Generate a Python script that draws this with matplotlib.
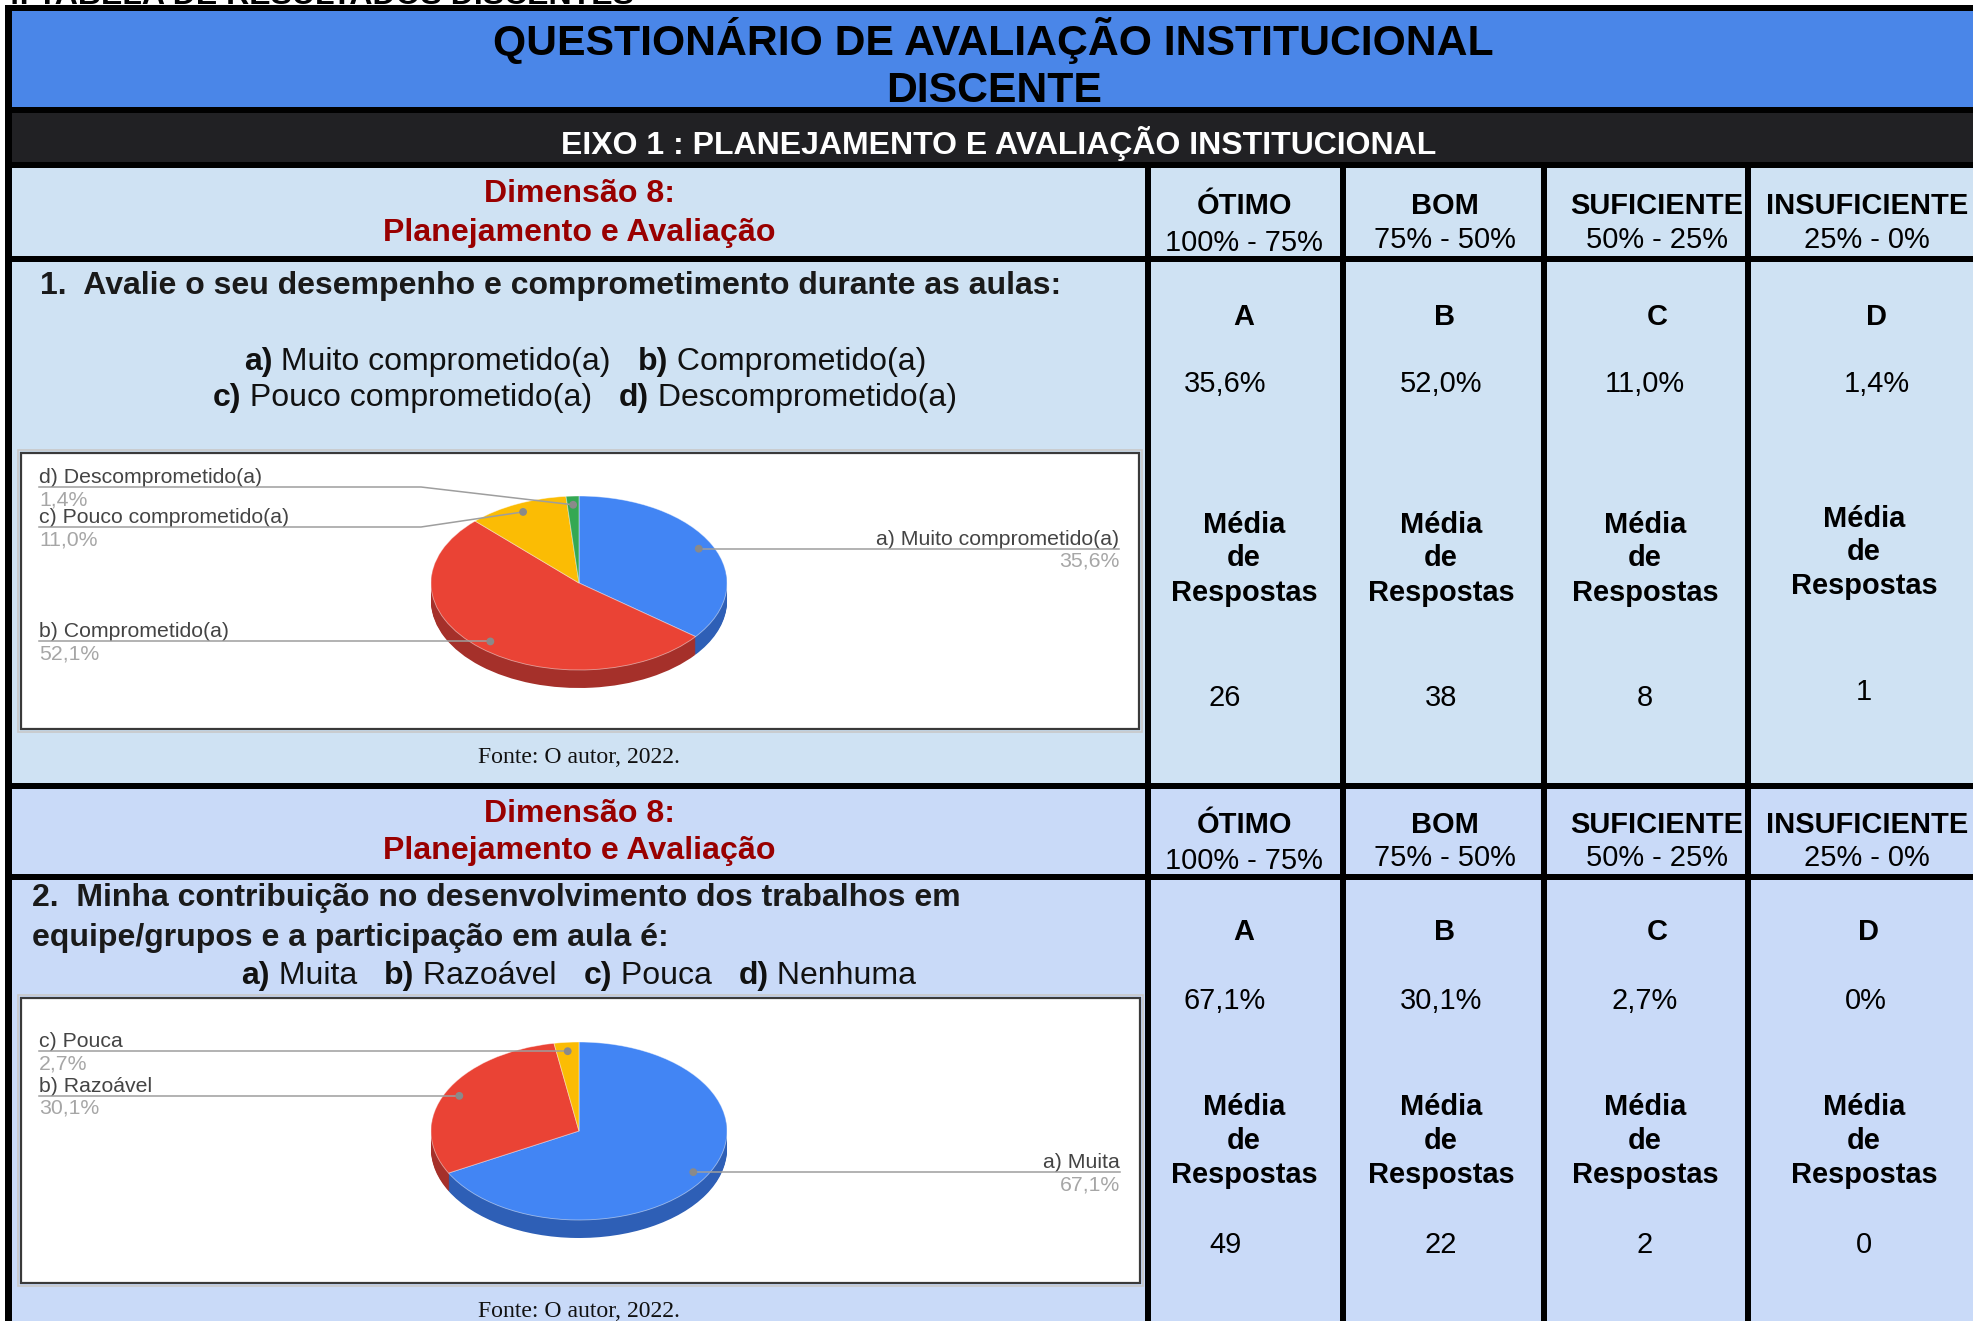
import numpy as np
import matplotlib
matplotlib.use("Agg")
import matplotlib.pyplot as plt
from matplotlib import font_manager as fm
from matplotlib.patches import Rectangle, Circle

# ---------------- data ----------------
top_caption = "4. TABELA DE RESULTADOS DISCENTES"
title_lines = ["QUESTIONÁRIO DE AVALIAÇÃO INSTITUCIONAL", "DISCENTE"]
eixo_title = "EIXO 1 : PLANEJAMENTO E AVALIAÇÃO INSTITUCIONAL"
dim_lines = ["Dimensão 8:", "Planejamento e Avaliação"]
rating_names = ["ÓTIMO", "BOM", "SUFICIENTE", "INSUFICIENTE"]
rating_ranges = ["100% - 75%", "75% - 50%", "50% - 25%", "25% - 0%"]
option_letters = ["A", "B", "C", "D"]
slice_letters = ["a", "b", "c", "d"]
media_lines = ["Média", "de", "Respostas"]

q1_title = "1.  Avalie o seu desempenho e comprometimento durante as aulas:"
q1_options = ["Muito comprometido(a)", "Comprometido(a)",
              "Pouco comprometido(a)", "Descomprometido(a)"]
q1_chart_pct = [35.6, 52.1, 11.0, 1.4]
q1_table_pct = ["35,6%", "52,0%", "11,0%", "1,4%"]
q1_counts = [26, 38, 8, 1]

q2_title = ["2.  Minha contribuição no desenvolvimento dos trabalhos em",
            "equipe/grupos e a participação em aula é:"]
q2_options = ["Muita", "Razoável", "Pouca", "Nenhuma"]
q2_chart_pct = [67.1, 30.1, 2.7, 0.0]
q2_table_pct = ["67,1%", "30,1%", "2,7%", "0%"]
q2_counts = [49, 22, 2, 0]

source_note = "Fonte: O autor, 2022."

# ---------------- style ----------------
FW, FH = 1973, 1321
_names = {f.name for f in fm.fontManager.ttflist}
if "Liberation Sans Narrow" in _names:
    SANS = ["Liberation Sans Narrow", "DejaVu Sans"]
    K = 1 / 0.85
else:
    SANS = ["Liberation Sans", "DejaVu Sans"]
    K = 1.0
SERIF = ["Liberation Serif", "DejaVu Serif"]

C_TITLE = "#4a86e8"
C_EIXO = "#212124"
C_ROW1 = "#cfe2f3"
C_ROW2 = "#c9daf8"
C_DIM = "#990000"
SLICE_TOP = ["#4285f4", "#ea4335", "#fbbc04", "#34a853"]
SLICE_SIDE = ["#2e5fb6", "#a5302a", "#b58704", "#24773b"]


def pt(w, k=None):
    return w * (K if k is None else k) * 0.72


fig = plt.figure(figsize=(FW / 100, FH / 100), dpi=100)
fig.patch.set_facecolor("white")
bg = fig.add_axes([0, 0, 1, 1], zorder=0)
bg.set_xlim(0, FW); bg.set_ylim(FH, 0); bg.axis("off")
ov = fig.add_axes([0, 0, 1, 1], zorder=5)
ov.set_xlim(0, FW); ov.set_ylim(FH, 0); ov.axis("off")
R = fig.canvas.get_renderer()


def box(x0, y0, x1, y1, c, z=1):
    bg.add_patch(Rectangle((x0, y0), x1 - x0, y1 - y0, facecolor=c,
                           edgecolor="none", lw=0, zorder=z))


def txt(x, y, s, w, bold=False, ha="center", color="#000000", family=None, k=None):
    ov.text(x, y, s, fontsize=pt(w, k), fontweight="bold" if bold else "normal",
            family=family or SANS, ha=ha, va="baseline", color=color)


def tw(s, **kw):
    a = ov.text(0, 0, "|" + s + "|", **kw)
    w1 = a.get_window_extent(R).width
    a.remove()
    b = ov.text(0, 0, "||", **kw)
    w2 = b.get_window_extent(R).width
    b.remove()
    return w1 - w2


def rich(x, y, pieces, w, ha="center", color="#111111"):
    size = pt(w)
    widths = [tw(s, fontsize=size, fontweight="bold" if b else "normal", family=SANS)
              for s, b in pieces]
    x0 = x - sum(widths) / 2 if ha == "center" else x
    for (s, b), wd in zip(pieces, widths):
        ov.text(x0, y, s, fontsize=size, fontweight="bold" if b else "normal",
                family=SANS, ha="left", va="baseline", color=color)
        x0 += wd


# ---------------- backgrounds & grid ----------------
box(6, 6, FW, 113, C_TITLE)
box(6, 113, FW, 168, C_EIXO)
box(6, 168, FW, 783, C_ROW1)
box(6, 783, FW, FH, C_ROW2)
for y0, y1 in [(5, 11), (107, 113), (162, 168), (256, 262), (783, 789), (874, 880)]:
    box(5, y0, FW, y1, "#000000", z=3)
box(5, 5, 12, FH, "#000000", z=3)
COL_LINES = [1148, 1343, 1544, 1748]
for cx in COL_LINES:
    box(cx - 3, 165, cx + 3, FH, "#000000", z=3)

# top caption (cut by the image edge, as in the source)
txt(2, 4, top_caption, 32, bold=True, ha="left")

# title & eixo
txt(993, 55, title_lines[0], 42.7, bold=True)
txt(994, 102, title_lines[1], 42.7, bold=True)
txt(999, 154, eixo_title, 32.0, bold=True, color="white")

HDR_X = [1244, 1445, 1657, 1867]


def header_row(y_dim, y_name, y_range):
    txt(579, y_dim[0], dim_lines[0], 32.2, bold=True, color=C_DIM)
    txt(579, y_dim[1], dim_lines[1], 32.2, bold=True, color=C_DIM)
    for i, x in enumerate(HDR_X):
        txt(x, y_name, rating_names[i], 29, bold=True)
        txt(x, y_range + (3 if i == 0 else 0), rating_ranges[i], 29)


header_row((202, 241), 214, 248)
header_row((822, 859), 833, 866)


def right_cols(y_letter, letter_x, y_pct, pct_x, pcts, media_ys, media_x, y_num, num_x, counts):
    for i in range(4):
        txt(letter_x[i], y_letter, option_letters[i], 29, bold=True)
        txt(pct_x[i], y_pct, pcts[i], 29)
        for j, line in enumerate(media_lines):
            txt(media_x[i], media_ys[i][j], line, 29, bold=True)
        txt(num_x[i], y_num[i], str(counts[i]), 29)


right_cols(325, [1244, 1445, 1657, 1877], 392, [1225, 1441, 1645, 1877], q1_table_pct,
           [(533, 566, 601)] * 3 + [(527, 560, 594)], [1244, 1441, 1645, 1864],
           [706, 706, 706, 700], [1225, 1441, 1645, 1864], q1_counts)
right_cols(940, [1244, 1445, 1657, 1868], 1009, [1225, 1441, 1645, 1866], q2_table_pct,
           [(1115, 1149, 1183)] * 4, [1244, 1441, 1645, 1864],
           [1253] * 4, [1225, 1441, 1645, 1864], q2_counts)

# questions
txt(40, 294, q1_title, 32, bold=True, ha="left", color="#1a1a1a")
rich(585, 370, [("a)", True), (" " + q1_options[0], False), ("   ", False),
                ("b)", True), (" " + q1_options[1], False)], 32)
rich(585, 406, [("c)", True), (" " + q1_options[2], False), ("   ", False),
                ("d)", True), (" " + q1_options[3], False)], 32)

txt(32, 906, q2_title[0], 32, bold=True, ha="left", color="#1a1a1a")
txt(32, 946, q2_title[1], 32, bold=True, ha="left", color="#1a1a1a")
pieces = []
for i, (l, o) in enumerate(zip(slice_letters, q2_options)):
    if i:
        pieces.append(("   ", False))
    pieces += [(l + ")", True), (" " + o, False)]
rich(579, 984, pieces, 32)

txt(579, 763, source_note, 23.8, family=SERIF, k=1.0, color="#111111")
txt(579, 1317, source_note, 23.8, family=SERIF, k=1.0, color="#111111")


# ---------------- pie charts ----------------
def fmt_pct(v):
    return f"{v:.1f}".replace(".", ",") + "%"


def pie_chart(values, options, frame, cx, cy, rx, ry, depth, sides, line_ys):
    x0, y0, x1, y1 = frame
    bg.add_patch(Rectangle((x0 - 3, y0 - 3), x1 - x0 + 6, y1 - y0 + 6, facecolor="none",
                           edgecolor="#c8c8c8", lw=1.2, zorder=4))
    bg.add_patch(Rectangle((x0, y0), x1 - x0, y1 - y0, facecolor="white",
                           edgecolor="#3a3a3a", lw=1.6, zorder=4))
    idx = [i for i, v in enumerate(values) if v > 0]
    vals = [values[i] for i in idx]
    pax = fig.add_axes([(cx - rx) / FW, 1 - (cy + ry) / FH, 2 * rx / FW, 2 * ry / FH], zorder=2)
    for k in range(int(depth), 0, -1):
        w, _ = pax.pie(vals, colors=[SLICE_SIDE[i] for i in idx], startangle=90,
                       counterclock=False, center=(0, -k / ry), radius=1,
                       wedgeprops=dict(linewidth=0))
        for p in w:
            p.set_clip_on(False)
    w, _ = pax.pie(vals, colors=[SLICE_TOP[i] for i in idx], startangle=90,
                   counterclock=False, radius=1,
                   wedgeprops=dict(linewidth=0.6, edgecolor=(1, 1, 1, 0.5)))
    for p in w:
        p.set_clip_on(False)
    pax.set_aspect("auto"); pax.set_xlim(-1, 1); pax.set_ylim(-1, 1); pax.axis("off")

    total = float(sum(values))
    lc = "#9e9e9e"
    left_x, knee_x, right_x = x0 + 18, 421, x1 - 20
    for i in idx:
        start = sum(values[:i]) / total * 360
        mid = np.deg2rad(start + values[i] / total * 180)
        dx = cx + 0.9 * rx * np.sin(mid)
        dy = cy - 0.9 * ry * np.cos(mid)
        ly = dy if line_ys[i] is None else line_ys[i]
        label = f"{slice_letters[i]}) {options[i]}"
        if sides[i] == "left":
            ov.plot([left_x, knee_x, dx], [ly, ly, dy], color=lc, lw=1.1, zorder=6)
            tx, ha = left_x, "left"
        else:
            ov.plot([dx, right_x], [dy, dy], color=lc, lw=1.1, zorder=6)
            tx, ha, ly = right_x, "right", dy
        ov.add_patch(Circle((dx, dy), 3.2, color="#8a8a8a", zorder=7))
        txt(tx, ly - 4, label, 21.3, ha=ha, color="#444444")
        txt(tx, ly + 18, fmt_pct(values[i]), 21.3, ha=ha, color="#a6a6a6")


pie_chart(q1_chart_pct, q1_options, (21, 453, 1139, 729), 579, 583, 148, 87, 18,
          ["right", "left", "left", "left"], [None, None, 527, 487])
pie_chart(q2_chart_pct, q2_options, (21, 998, 1140, 1283), 579, 1131, 148, 89, 18,
          ["right", "left", "left", "left"], [None, None, None, None])

fig.savefig("out.png", dpi=100)
